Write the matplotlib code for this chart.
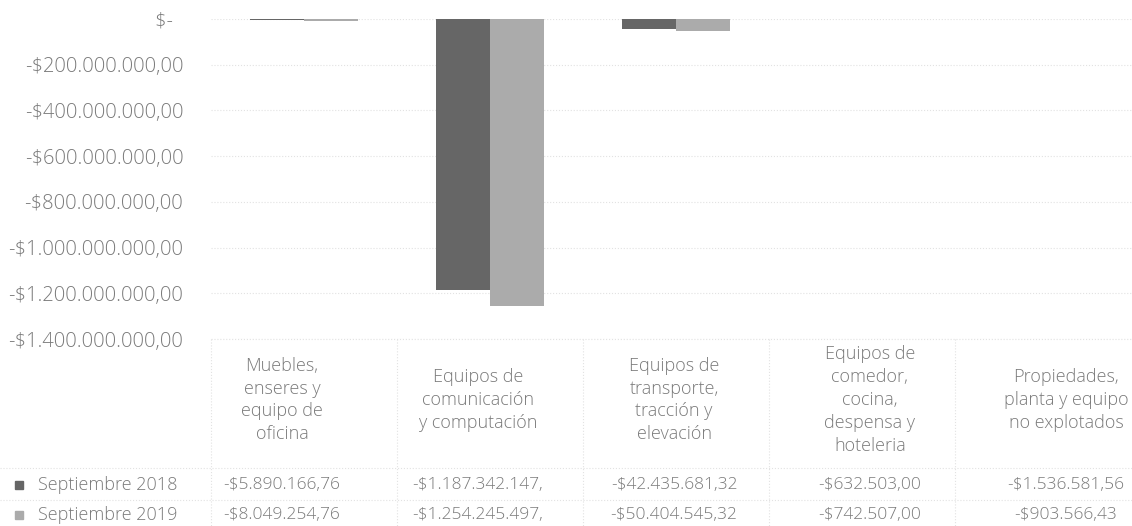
import matplotlib.pyplot as plt
import matplotlib.transforms as mtransforms
from matplotlib.ticker import FuncFormatter
import numpy as np


categorias = [
    "Muebles,\nenseres y\nequipo de\noficina",
    "Equipos de\ncomunicación\ny computación",
    "Equipos de\ntransporte,\ntracción y\nelevación",
    "Equipos de\ncomedor,\ncocina,\ndespensa y\nhoteleria",
    "Propiedades,\nplanta y equipo\nno explotados",
]
series = ["Septiembre 2018", "Septiembre 2019"]
valores_2018 = [-5890166.76, -1187342147.00, -42435681.32, -632503.00, -1536581.56]
valores_2019 = [-8049254.76, -1254245497.00, -50404545.32, -742507.00, -903566.43]
textos_2018 = ["-$5.890.166,76", "-$1.187.342.147,", "-$42.435.681,32", "-$632.503,00", "-$1.536.581,56"]
textos_2019 = ["-$8.049.254,76", "-$1.254.245.497,", "-$50.404.545,32", "-$742.507,00", "-$903.566,43"]
ticks_y = [0, -200e6, -400e6, -600e6, -800e6, -1000e6, -1200e6, -1400e6]

COLOR_2018 = "#666666"
COLOR_2019 = "#ababab"
TEXTO = "#7a7a7a"
LINEA = "#e2e2e2"

plt.rcParams["font.family"] = ["Open Sans", "DejaVu Sans"]
plt.rcParams["font.weight"] = "light"


def formato_pesos(v, pos=None):
    if abs(v) < 1:
        return "$-  "
    s = f"{abs(v):,.2f}"
    s = s.replace(",", "X").replace(".", ",").replace("X", ".")
    return ("-$" if v < 0 else "$") + s


W, H = 1132, 526
fig = plt.figure(figsize=(W / 100, H / 100), dpi=100)

# area de barras (en pixeles de la imagen)
izq, der, arriba, abajo = 211, 1141, 19, 339
ax = fig.add_axes([izq / W, 1 - abajo / H, (der - izq) / W, (abajo - arriba) / H])

x = np.arange(len(categorias))
ancho = 0.29
ax.bar(x - ancho / 2, valores_2018, ancho, color=COLOR_2018, zorder=3)
ax.bar(x + ancho / 2, valores_2019, ancho, color=COLOR_2019, zorder=3)

ax.set_xlim(-0.5, len(categorias) - 0.5)
ax.set_ylim(-1.4e9, 0)
ax.set_yticks(ticks_y)
ax.yaxis.set_major_formatter(FuncFormatter(formato_pesos))
ax.tick_params(axis="y", length=0, pad=20, labelsize=14.5, labelcolor=TEXTO)
ax.set_xticks([])
ax.grid(axis="y", color=LINEA, linestyle=":", linewidth=0.8, zorder=0)
for s in ax.spines.values():
    s.set_visible(False)

# tabla de datos debajo del grafico
tr = mtransforms.blended_transform_factory(ax.transData, fig.transFigure)


def yf(py):
    return 1 - py / H


# en el escaneo el texto de la tabla queda algo mas abierto que las columnas
paso_texto = 196 / 186
desfase = -22 / 186

y_enc = 400
y_f1 = 485
y_f2 = 515
for i, cat in enumerate(categorias):
    xt = i * paso_texto + desfase
    ax.text(xt, yf(y_enc), cat, transform=tr, ha="center", va="center",
            fontsize=13, color=TEXTO, linespacing=1.35, clip_on=False)
    ax.text(xt, yf(y_f1), textos_2018[i], transform=tr, ha="center", va="center",
            fontsize=12.5, color=TEXTO, clip_on=False)
    ax.text(xt, yf(y_f2), textos_2019[i], transform=tr, ha="center", va="center",
            fontsize=12.5, color=TEXTO, clip_on=False)

# nombres de series con su color
for y_fila, nombre, color in [(y_f1, series[0], COLOR_2018), (y_f2, series[1], COLOR_2019)]:
    fig.patches.append(plt.Rectangle((15 / W, yf(y_fila + 4)), 8 / W, 8 / H,
                                     transform=fig.transFigure, color=color))
    fig.text(38 / W, yf(y_fila), nombre, ha="left", va="center",
             fontsize=13, color=TEXTO)

# lineas de la tabla
for py in [abajo, 468, 500]:
    x0 = izq if py == abajo else 0
    fig.add_artist(plt.Line2D([x0 / W, 1], [yf(py), yf(py)], color=LINEA,
                              lw=0.8, ls=":"))
for k in range(len(categorias) + 1):
    ax.plot([k - 0.5, k - 0.5], [yf(abajo), yf(526)], transform=tr,
            color=LINEA, lw=0.8, ls=":", clip_on=False)

fig.savefig("out.png", dpi=100, facecolor="white")
